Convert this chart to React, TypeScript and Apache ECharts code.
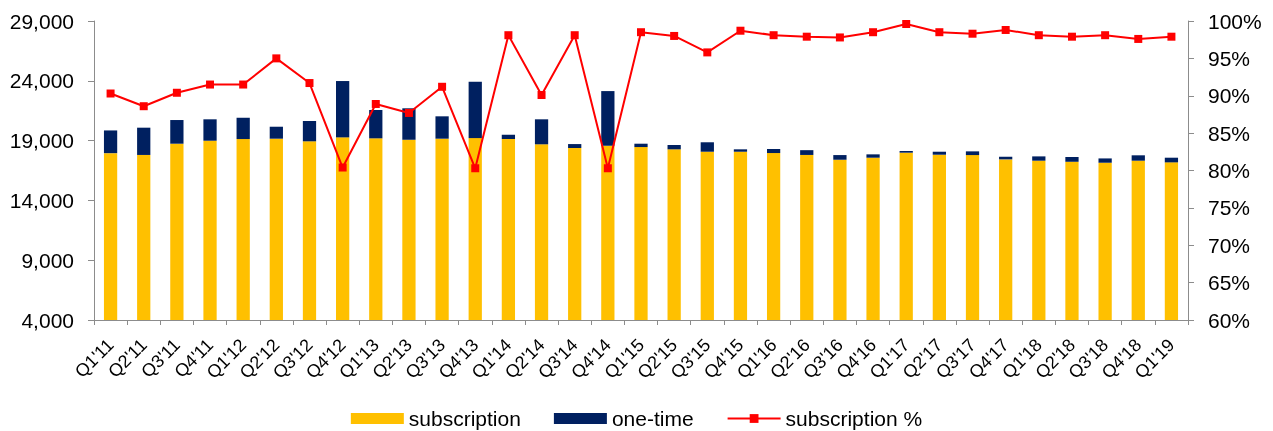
import React, { useEffect, useRef } from "react";
import * as echarts from "echarts";

const categories = [
  "Q1'11", "Q2'11", "Q3'11", "Q4'11",
  "Q1'12", "Q2'12", "Q3'12", "Q4'12",
  "Q1'13", "Q2'13", "Q3'13", "Q4'13",
  "Q1'14", "Q2'14", "Q3'14", "Q4'14",
  "Q1'15", "Q2'15", "Q3'15", "Q4'15",
  "Q1'16", "Q2'16", "Q3'16", "Q4'16",
  "Q1'17", "Q2'17", "Q3'17", "Q4'17",
  "Q1'18", "Q2'18", "Q3'18", "Q4'18",
  "Q1'19",
];

const subscription = [
  17950, 17800, 18740, 18990,
  19130, 19160, 18940, 19270,
  19190, 19070, 19160, 19210,
  19130, 18690, 18380, 18570,
  18460, 18270, 18070, 18070,
  17960, 17800, 17400, 17570,
  17990, 17820, 17790, 17430,
  17320, 17230, 17150, 17320,
  17180,
];

const oneTime = [
  1900, 2280, 1980, 1790,
  1780, 1000, 1700, 4710,
  2370, 2630, 1870, 4710,
  360, 2090, 330, 4570,
  280, 360, 790, 200,
  340, 400, 390, 280,
  140, 250, 310, 220,
  360, 400, 360, 450,
  390,
];

const subscriptionPct = [
  90.3, 88.6, 90.4, 91.5,
  91.5, 95.0, 91.7, 80.4,
  88.9, 87.7, 91.2, 80.3,
  98.1, 90.1, 98.1, 80.3,
  98.5, 98.0, 95.8, 98.7,
  98.1, 97.9, 97.8, 98.5,
  99.6, 98.5, 98.3, 98.8,
  98.1, 97.9, 98.1, 97.6,
  97.9,
];

const FONT = "'Liberation Sans', Arial, sans-serif";
const AXIS_COLOR = "#8c8c8c";

export default function App() {
  const ref = useRef<HTMLDivElement>(null);

  useEffect(() => {
    if (!ref.current) return;
    const chart = echarts.init(ref.current, null, { renderer: "svg" });
    chart.setOption({
      animation: false,
      textStyle: { fontFamily: FONT, color: "#000" },
      grid: { left: 94, right: 85, top: 21, bottom: 111, containLabel: false },
      legend: {
        top: 403,
        left: "center",
        itemWidth: 53,
        itemHeight: 11,
        itemGap: 33,
        textStyle: { fontSize: 21, fontFamily: FONT, color: "#000" },
        data: [
          { name: "subscription", icon: "rect" },
          { name: "one-time", icon: "rect" },
          { name: "subscription %" },
        ],
      },
      xAxis: {
        type: "category",
        data: categories,
        boundaryGap: true,
        axisLine: { show: true, lineStyle: { color: AXIS_COLOR, width: 1 } },
        axisTick: { show: true, length: 5, alignWithLabel: false, lineStyle: { color: AXIS_COLOR } },
        axisLabel: {
          rotate: 45,
          interval: 0,
          margin: 22,
          fontSize: 18,
          fontFamily: FONT,
          color: "#000",
        },
        splitLine: { show: false },
      },
      yAxis: [
        {
          type: "value",
          min: 4000,
          max: 29000,
          interval: 5000,
          axisLine: { show: true, lineStyle: { color: AXIS_COLOR, width: 1 } },
          axisTick: { show: true, length: 6, lineStyle: { color: AXIS_COLOR } },
          splitLine: { show: false },
          axisLabel: {
            margin: 20,
            fontSize: 21,
            fontFamily: FONT,
            color: "#000",
            formatter: (v: number) => v.toLocaleString("en-US"),
          },
        },
        {
          type: "value",
          min: 60,
          max: 100,
          interval: 5,
          position: "right",
          axisLine: { show: true, lineStyle: { color: AXIS_COLOR, width: 1 } },
          axisTick: { show: true, length: 6, lineStyle: { color: AXIS_COLOR } },
          splitLine: { show: false },
          axisLabel: {
            margin: 20,
            fontSize: 21,
            fontFamily: FONT,
            color: "#000",
            formatter: "{value}%",
          },
        },
      ],
      series: [
        {
          name: "subscription",
          type: "bar",
          stack: "total",
          barWidth: "40%",
          data: subscription,
          itemStyle: { color: "#FFC000" },
        },
        {
          name: "one-time",
          type: "bar",
          stack: "total",
          barWidth: "40%",
          data: oneTime,
          itemStyle: { color: "#002060" },
        },
        {
          name: "subscription %",
          type: "line",
          yAxisIndex: 1,
          data: subscriptionPct,
          symbol: "rect",
          symbolSize: 8,
          lineStyle: { color: "#FF0000", width: 2 },
          itemStyle: { color: "#FF0000" },
          z: 5,
        },
      ],
    });
    return () => chart.dispose();
  }, []);

  return (
    <div
      ref={ref}
      style={{ position: "fixed", left: 0, top: 0, width: 1273, height: 431 }}
    />
  );
}
